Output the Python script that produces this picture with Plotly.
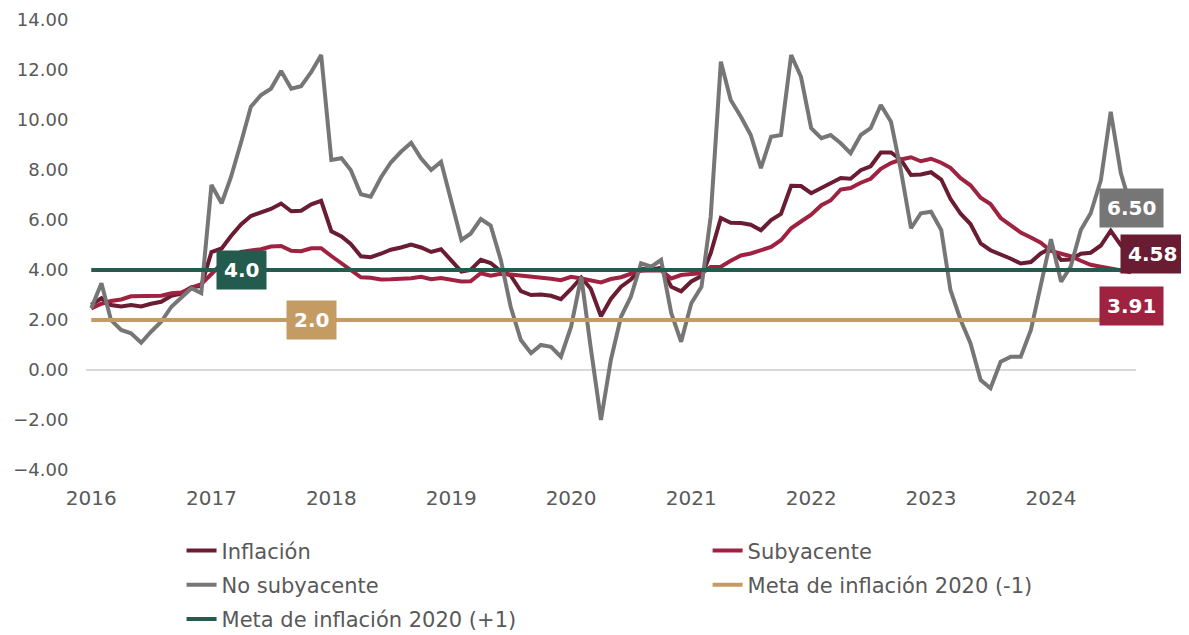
import pandas as pd
import plotly.graph_objects as go

# monthly series, Jan 2016 - Sep 2024 (annual % change)
meses = pd.date_range("2016-01-01", "2024-09-01", freq="MS")

inflacion = [
    2.61, 2.87, 2.60, 2.54, 2.60, 2.54, 2.65, 2.73, 2.97, 3.06, 3.31, 3.36,
    4.72, 4.86, 5.35, 5.82, 6.16, 6.31, 6.44, 6.66, 6.35, 6.37, 6.63, 6.77,
    5.55, 5.34, 5.04, 4.55, 4.51, 4.65, 4.81, 4.90, 5.02, 4.90, 4.72, 4.83,
    4.37, 3.94, 4.00, 4.41, 4.28, 3.95, 3.78, 3.16, 3.00, 3.02, 2.97, 2.83,
    3.24, 3.70, 3.25, 2.15, 2.84, 3.33, 3.62, 4.05, 4.01, 4.09, 3.33, 3.15,
    3.54, 3.76, 4.67, 6.08, 5.89, 5.88, 5.81, 5.59, 6.00, 6.24, 7.37, 7.36,
    7.07, 7.28, 7.45, 7.68, 7.65, 7.99, 8.15, 8.70, 8.70, 8.41, 7.80, 7.82,
    7.91, 7.62, 6.85, 6.25, 5.84, 5.06, 4.79, 4.64, 4.45, 4.26, 4.32, 4.66,
    4.88, 4.40, 4.42, 4.65, 4.69, 4.98, 5.57, 4.99, 4.58,
]

subyacente = [
    2.46, 2.65, 2.76, 2.82, 2.95, 2.97, 2.96, 2.97, 3.07, 3.10, 3.29, 3.44,
    3.84, 4.26, 4.48, 4.72, 4.78, 4.83, 4.94, 4.96, 4.77, 4.75, 4.87, 4.87,
    4.56, 4.27, 4.02, 3.71, 3.69, 3.62, 3.63, 3.63, 3.67, 3.73, 3.63, 3.68,
    3.60, 3.54, 3.55, 3.87, 3.77, 3.85, 3.82, 3.78, 3.75, 3.68, 3.65, 3.59,
    3.73, 3.66, 3.60, 3.50, 3.64, 3.71, 3.85, 3.97, 3.99, 3.98, 3.66, 3.80,
    3.84, 3.87, 4.12, 4.13, 4.37, 4.58, 4.66, 4.78, 4.92, 5.19, 5.67, 5.94,
    6.21, 6.59, 6.78, 7.22, 7.28, 7.49, 7.65, 8.05, 8.28, 8.42, 8.51, 8.35,
    8.45, 8.29, 8.09, 7.67, 7.39, 6.89, 6.64, 6.08, 5.76, 5.50, 5.30, 5.09,
    4.76, 4.64, 4.55, 4.37, 4.21, 4.13, 4.05, 4.00, 3.91,
]

no_subyacente = [
    2.47, 3.47, 2.00, 1.60, 1.47, 1.09, 1.53, 1.93, 2.53, 2.87, 3.27, 3.07,
    7.40, 6.67, 7.70, 9.10, 10.53, 11.00, 11.25, 11.96, 11.25, 11.35, 11.92, 12.60,
    8.40, 8.47, 8.00, 7.03, 6.93, 7.70, 8.30, 8.73, 9.09, 8.47, 8.00, 8.33,
    6.73, 5.20, 5.45, 6.04, 5.78, 4.40, 2.53, 1.20, 0.67, 1.00, 0.93, 0.53,
    1.73, 3.73, 0.87, -2.00, 0.40, 2.13, 2.93, 4.27, 4.13, 4.40, 2.27, 1.13,
    2.67, 3.33, 6.13, 12.33, 10.80, 10.13, 9.40, 8.07, 9.33, 9.40, 12.60, 11.73,
    9.67, 9.27, 9.40, 9.07, 8.67, 9.40, 9.67, 10.60, 9.93, 8.00, 5.67, 6.27,
    6.33, 5.60, 3.20, 2.00, 1.07, -0.40, -0.73, 0.33, 0.53, 0.53, 1.60, 3.33,
    5.23, 3.53, 4.13, 5.60, 6.27, 7.60, 10.33, 7.87, 6.50,
]

meta_inf = [2.0] * len(meses)
meta_sup = [4.0] * len(meses)

C_INF = "#691C32"
C_SUB = "#9F2241"
C_NOS = "#767676"
C_BAJA = "#C39B63"
C_ALTA = "#235B4E"
FONT = "DejaVu Sans"
GRIS = "#595959"

fig = go.Figure()
# (name, values, colour, legend column)
series = [
    ("Inflación", inflacion, C_INF, "legend"),
    ("Subyacente", subyacente, C_SUB, "legend2"),
    ("No subyacente", no_subyacente, C_NOS, "legend"),
    ("Meta de inflación 2020 (-1)", meta_inf, C_BAJA, "legend2"),
    ("Meta de inflación 2020 (+1)", meta_sup, C_ALTA, "legend"),
]
for name, vals, col, leg in series:
    fig.add_trace(go.Scatter(
        x=meses, y=vals, name=name, mode="lines",
        line=dict(color=col, width=4),
        legend=leg, legendgroup=name,
        hoverinfo="x+y+name",
    ))

def etiqueta(x, y, text, bg, xshift=0, yshift=0):
    fig.add_annotation(
        x=x, y=y, text="<b>%s</b>" % text, showarrow=False,
        xshift=xshift, yshift=yshift,
        font=dict(family=FONT, size=20, color="white"),
        bgcolor=bg, borderpad=7,
    )

etiqueta(meses[15], meta_sup[15], "4.0", C_ALTA)
etiqueta(meses[22], meta_inf[22], "2.0", C_BAJA)
etiqueta(meses[-1], no_subyacente[-1], "%.2f" % no_subyacente[-1], C_NOS)
etiqueta(meses[-1], inflacion[-1], "%.2f" % inflacion[-1], C_INF, xshift=21, yshift=2)
etiqueta(meses[-1], subyacente[-1], "%.2f" % subyacente[-1], C_SUB, yshift=-34)

leg_style = dict(
    orientation="v", y=-0.134, xanchor="left", yanchor="top",
    font=dict(size=21, color=GRIS), tracegroupgap=4,
    bgcolor="rgba(0,0,0,0)",
)

# page body has an 8px margin, so the figure is 8px smaller than the window
fig.update_layout(
    width=1181, height=627,
    margin=dict(l=78, r=53, t=12, b=165, autoexpand=False),
    plot_bgcolor="white", paper_bgcolor="white",
    font=dict(family=FONT, color=GRIS),
    showlegend=True,
    legend=dict(x=0.091, **leg_style),
    legend2=dict(x=0.592, **leg_style),
    xaxis=dict(
        range=["2015-12-16", "2024-09-16"],
        dtick="M12", tick0="2016-01-01", tickformat="%Y",
        showgrid=False, zeroline=False, showline=False, automargin=False,
        ticks="outside", ticklen=10, tickcolor="rgba(0,0,0,0)",
        tickfont=dict(size=20, color=GRIS),
    ),
    yaxis=dict(
        range=[-4, 14], dtick=2, tickformat=".2f",
        showgrid=False, zeroline=True, zerolinecolor="#D9D9D9", zerolinewidth=2,
        showline=False, automargin=False,
        ticks="outside", ticklen=13, tickcolor="rgba(0,0,0,0)",
        tickfont=dict(size=18, color=GRIS),
    ),
)

fig.write_html("out.html")
